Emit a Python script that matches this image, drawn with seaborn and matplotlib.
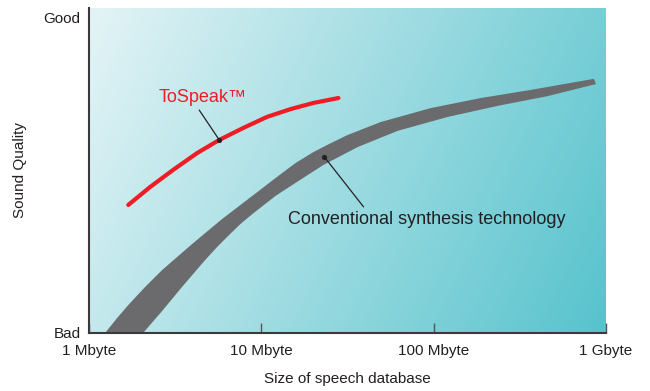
import numpy as np
import pandas as pd
import matplotlib
matplotlib.use("Agg")
import matplotlib.pyplot as plt
import seaborn as sns
from matplotlib.colors import LinearSegmentedColormap

# database size in Mbyte (log axis), quality 0 (Bad) .. 100
x_ticks = [1, 10, 100, 1000]
x_tick_labels = ["1 Mbyte", "10 Mbyte", "100 Mbyte", "1 Gbyte"]
y_ticks = [0, 97]
y_tick_labels = ["Bad", "Good"]

# ToSpeak curve
tospeak_size = [1.69, 2.26, 3.08, 4.25, 5.70, 7.86, 10.8, 14.8, 20.1, 28.0]
tospeak_quality = [39.4, 44.9, 50.2, 55.4, 59.4, 63.1, 66.5, 68.9, 70.8, 72.3]

# conventional technology band (upper and lower edge)
conv_upper_size = [1.24, 1.44, 1.69, 2.12, 2.66, 3.97, 5.93, 8.87, 12.1, 15.8, 20.1,
                   24.2, 31.6, 49.2, 96.1, 188, 366, 851]
conv_upper_quality = [0, 4.3, 8.6, 14.2, 19.4, 27.4, 35.1, 42.2, 47.7, 52.3, 55.7,
                      57.9, 60.9, 64.9, 69.2, 72.3, 74.8, 78.2]
conv_lower_size = [2.06, 2.66, 3.47, 4.73, 5.55, 6.43, 7.55, 8.87, 12.1, 15.8, 22.9,
                   36.2, 61.8, 121, 236, 460, 875]
conv_lower_quality = [0, 6.8, 14.2, 22.5, 26.5, 29.9, 33.5, 36.6, 42.2, 46.2, 51.7,
                      57.2, 62.2, 66.5, 69.9, 72.9, 76.6]

# annotation anchors: point on the curve, end of the leader line, text position
tospeak_dot = (5.7, 59.4)
tospeak_leader = (4.36, 68.6)
tospeak_text = (2.55, 72.6)
conv_dot = (23.2, 54.2)
conv_leader = (39.2, 38.8)
conv_text = (14.2, 34.8)

sns.set_theme(style="white")
plt.rcParams["font.family"] = ["Liberation Sans", "DejaVu Sans"]

fig = plt.figure(figsize=(6.5, 3.91), dpi=100)
ax = fig.add_axes([89 / 650, 58 / 391, 517 / 650, 325 / 391])

# diagonal background gradient
u, v = np.meshgrid(np.linspace(0, 1, 300), np.linspace(0, 1, 200))
t = 0.77 * u + 0.23 * v
cmap = LinearSegmentedColormap.from_list("bg", ["#e4f4f6", "#57c3cd"])
ax.imshow(t, cmap=cmap, extent=(0, 1, 0, 1), transform=ax.transAxes,
          aspect="auto", origin="upper", zorder=0, interpolation="bilinear")

band_x = conv_upper_size + conv_lower_size[::-1]
band_y = conv_upper_quality + conv_lower_quality[::-1]
ax.fill(band_x, band_y, color="#6b6b6d", lw=0, zorder=2)

df = pd.DataFrame({"size": tospeak_size, "quality": tospeak_quality})
sns.lineplot(data=df, x="size", y="quality", sort=False, color="#ee1c25",
             lw=3, ax=ax, zorder=3)

# leader lines and dots
ax.plot([tospeak_leader[0], tospeak_dot[0]], [tospeak_leader[1], tospeak_dot[1]],
        color="#222222", lw=0.9, zorder=4)
ax.plot([conv_leader[0], conv_dot[0]], [conv_leader[1], conv_dot[1]],
        color="#222222", lw=0.9, zorder=4)
sns.scatterplot(x=[tospeak_dot[0], conv_dot[0]], y=[tospeak_dot[1], conv_dot[1]],
                color="#222222", s=14, linewidth=0, ax=ax, zorder=5)

ax.text(tospeak_text[0], tospeak_text[1], "ToSpeak\u2122", color="#ee1c25",
        fontsize=13, ha="left", va="center", zorder=5)
ax.text(conv_text[0], conv_text[1], "Conventional synthesis technology",
        color="#231f20", fontsize=13, ha="left", va="center", zorder=5)

ax.set_xscale("log")
ax.set_xlim(1, 1000)
ax.set_ylim(0, 100)
ax.set_xticks(x_ticks, x_tick_labels)
ax.minorticks_off()
ax.set_yticks(y_ticks, y_tick_labels)

ax.tick_params(axis="x", direction="in", length=7, width=1, color="#555555",
               pad=8, labelsize=11, labelcolor="#231f20", bottom=True)
ax.tick_params(axis="y", length=0, pad=6, labelsize=11, labelcolor="#231f20")

for side in ["top", "right"]:
    ax.spines[side].set_visible(False)
for side in ["left", "bottom"]:
    ax.spines[side].set_color("#3a3a3a")
    ax.spines[side].set_linewidth(1.5)
    ax.spines[side].set_zorder(6)

ax.set_xlabel("Size of speech database", fontsize=11, color="#231f20", labelpad=10)
ax.set_ylabel("Sound Quality", fontsize=11, color="#231f20", labelpad=12)

fig.savefig("out.png", dpi=100)
